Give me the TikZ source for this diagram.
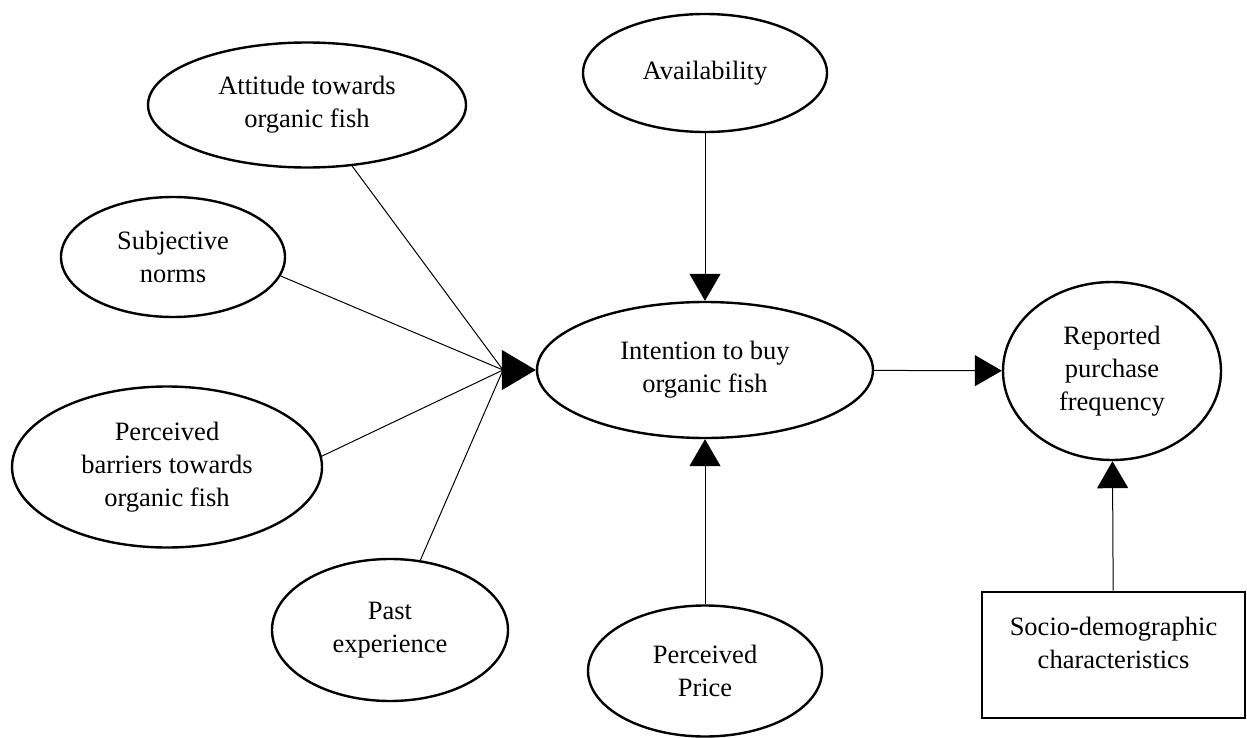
\documentclass[tikz,border=0pt]{standalone}
\usepackage{fontspec}
\setmainfont{Liberation Serif}
\usetikzlibrary{shapes.geometric, arrows.meta}

\begin{document}
\begin{tikzpicture}[x=1pt, y=-1pt,
		oval/.style = {ellipse, draw, line width=2.4pt, inner sep=0pt, align=center},
		link/.style = {line width=1pt},
		tip/.style = {-{Triangle[length=27pt, width=31pt]}},
		bigtip/.style = {-{Triangle[length=34pt, width=40pt]}},
		font=\fontsize{26.5}{33}\selectfont]
			\useasboundingbox (0,0) rectangle (1247,738);
			
			\node[oval, minimum width=318pt, minimum height=125pt] (att) at (307,105) {Attitude towards\\organic fish};
			\node[oval, minimum width=244pt, minimum height=118pt] (avail) at (705,73) {Availability};
			\node[oval, minimum width=224pt, minimum height=120pt] (subj) at (173,257) {Subjective\\norms};
			\node[oval, minimum width=336pt, minimum height=136pt] (intent) at (705,370) {Intention to buy\\organic fish};
			\node[oval, minimum width=218pt, minimum height=178pt] (rep) at (1112,371) {Reported\\purchase\\frequency};
			\node[oval, minimum width=310pt, minimum height=161pt] (barr) at (167,467) {Perceived\\barriers towards\\organic fish};
			\node[oval, minimum width=236pt, minimum height=142pt] (past) at (390,630) {Past\\experience};
			\node[oval, minimum width=234pt, minimum height=131pt] (price) at (705,671) {Perceived\\Price};
			\node[draw, line width=2.6pt, minimum width=263pt, minimum height=126pt, text depth=24pt, align=center] (socio) at (1113.5,655) {Socio-demographic\\characteristics};
			
			\coordinate (hub) at (503,370);
			
			\begin{scope}[link]
			\draw (att) -- (hub);
			\draw (subj.-10) -- (hub);
			\draw (barr.4) -- (hub);
			\draw (past) -- (hub);
			\end{scope}
			
			\draw[link, bigtip] (hub) -- (intent.west);
			
			\begin{scope}[link, tip]
			\draw (avail) -- (intent);
			\draw (price) -- (intent);
			\draw (intent) -- (rep);
			\draw (socio) -- (rep);
			\end{scope}
		\end{tikzpicture}
\end{document}
